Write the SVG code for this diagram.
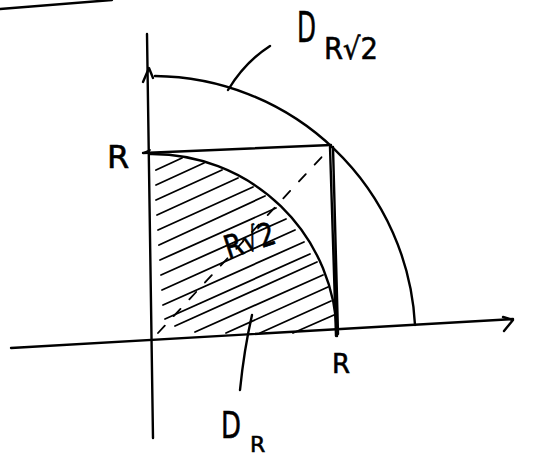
<svg xmlns="http://www.w3.org/2000/svg" width="542" height="459" viewBox="0 0 542 459">
<style>
.ln{fill:none;stroke:#000;stroke-width:2.4;stroke-linecap:round;stroke-linejoin:round}
.th{fill:none;stroke:#000;stroke-width:1.8;stroke-linecap:round}
.lbl{font-family:"DejaVu Sans","Liberation Sans",sans-serif;fill:#000;stroke:#000;stroke-width:0.6}
</style>
<rect width="542" height="459" fill="#fff"/>
<g id="corner-mark"><path class="ln" d="M0,9 L112,0"/></g>
<g id="axes">
<path class="ln" d="M147,34 L153,438"/>
<path class="ln" d="M143,82 L149,68 L153,78"/>
<path class="ln" d="M11,348 L513,319"/>
<path class="ln" d="M503,317 L513,320 L504,331"/>
</g>
<g id="hatching">
<path class="th" d="M156,170 L182,158 M156,185 L204,163 M156,200 L222,170 M157,215 L238,178 M158,230 L253,187 M159,245 L265,196 M160,260 L276,208 M161,275 L286,219 M162,290 L295,230 M163,305 L304,242 M165,319 L310,254 M175,326 L317,262 M195,332 L323,275 M226,333 L328,287 M260,333 L331,301 M293,333 L334,315"/>
</g>
<g id="disk-R-arc"><path class="ln" d="M150,154 A185,185 0 0 1 337,336"/></g>
<g id="disk-Rsqrt2-arc"><path class="ln" d="M155,76 A263,263 0 0 1 415,325"/></g>
<g id="square">
<path class="ln" d="M143,153 L331,145"/>
<path class="ln" d="M330,147 L336,336 M333,147 L338,334"/>
<path class="th" d="M143,153 L150,150"/>
</g>
<g id="diagonal"><path class="th" d="M158,333 L331,147" stroke-dasharray="10 13"/></g>
<g id="connectors">
<path class="ln" d="M228,90 Q245,62 270,46"/>
<path class="ln" d="M252,315 Q244,350 240,390"/>
</g>
<g id="label-R-left"><text class="lbl" x="107" y="168" font-size="32">R</text></g>
<g id="label-R-bottom"><text class="lbl" x="332" y="373" font-size="26">R</text></g>
<g id="label-DRsqrt2">
<text class="lbl" x="297" y="42" font-size="42" textLength="19" lengthAdjust="spacingAndGlyphs">D</text>
<text class="lbl" x="324" y="59" font-size="30" textLength="54" lengthAdjust="spacingAndGlyphs">R√2</text>
</g>
<g id="label-Rsqrt2-inner" transform="rotate(-18 247 236)">
<text class="lbl" x="222" y="252" font-size="32" textLength="52" lengthAdjust="spacingAndGlyphs">R√2</text>
</g>
<g id="label-DR">
<text class="lbl" x="221" y="438" font-size="38" textLength="20" lengthAdjust="spacingAndGlyphs">D</text>
<text class="lbl" x="250" y="452" font-size="22">R</text>
</g>
</svg>
